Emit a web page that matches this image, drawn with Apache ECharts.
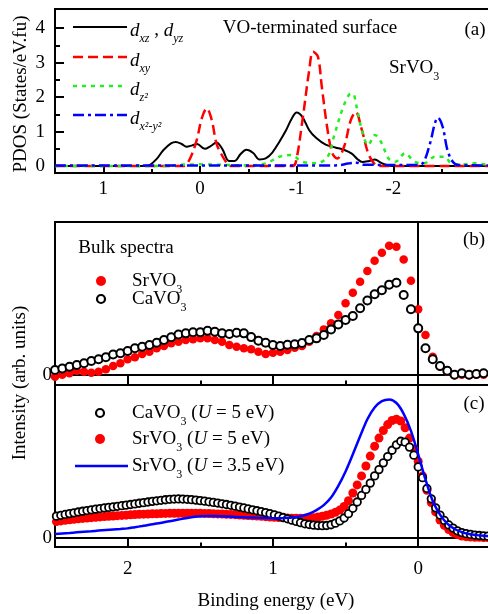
<!DOCTYPE html>
<html>
<head>
<meta charset="utf-8">
<script src="https://cdn.jsdelivr.net/npm/echarts@6/dist/echarts.min.js"></script>
<style>
  html, body { margin: 0; padding: 0; background: #fff; overflow: hidden; }
  #chart { width: 600px; height: 614px; }
</style>
</head>
<body>
<div id="chart"></div>
<script>
const serif = '"Liberation Serif", "DejaVu Serif", serif';

// (a) PDOS of the VO-terminated surface (energy axis runs right to negative)
const xzE = [1.5, 0.58, 0.52, 0.45, 0.38, 0.30, 0.25, 0.19, 0.14, 0.08, 0.03, -0.05, -0.11, -0.17, -0.23, -0.30, -0.36, -0.42, -0.48, -0.55, -0.615, -0.68, -0.75, -0.82, -0.89, -0.95, -1.0, -1.06, -1.13, -1.2, -1.3, -1.4, -1.5, -1.57, -1.63, -1.68, -1.75, -1.81, -1.87, -1.93, -1.99, -3.0];
const xzV = [0, 0, 0.03, 0.2, 0.46, 0.66, 0.70, 0.64, 0.56, 0.60, 0.64, 0.50, 0.58, 0.68, 0.50, 0.15, 0.15, 0.35, 0.47, 0.38, 0.19, 0.22, 0.40, 0.70, 1.04, 1.38, 1.55, 1.42, 1.04, 0.82, 0.62, 0.54, 0.46, 0.36, 0.2, 0.12, 0.15, 0.19, 0.1, 0.03, 0, 0];
const xyE = [1.5, 0.18, 0.14, 0.09, 0.034, -0.02, -0.07, -0.12, -0.17, -0.22, -0.27, -0.32, -0.95, -0.99, -1.06, -1.13, -1.17, -1.22, -1.26, -1.32, -1.37, -1.42, -1.49, -1.56, -1.61, -1.675, -1.74, -1.8, -1.85, -3.0];
const xyV = [0, 0, 0.05, 0.3, 0.75, 1.4, 1.67, 1.35, 0.66, 0.35, 0.12, 0, 0, 0.1, 1.33, 2.78, 3.31, 3.17, 2.3, 1.04, 0.37, 0.22, 0.56, 1.33, 1.57, 1.04, 0.37, 0.08, 0, 0];
const z2E = [1.5, 0.35, 0.2, 0.0, -0.2, -0.5, -0.68, -0.82, -0.94, -1.06, -1.2, -1.32, -1.385, -1.47, -1.54, -1.58, -1.62, -1.675, -1.74, -1.81, -1.88, -1.95, -2.02, -2.12, -2.22, -2.32, -2.43, -2.53, -2.6, -2.74, -2.84, -2.95, -3.0];
const z2V = [0, 0, 0.04, 0.05, 0.04, 0.02, 0.08, 0.27, 0.32, 0.125, 0.08, 0.27, 0.85, 1.62, 2.06, 2.1, 1.72, 1.04, 0.61, 0.9, 0.66, 0.22, 0.125, 0.37, 0.125, 0.08, 0.27, 0.27, 0.08, 0.05, 0.08, 0.05, 0.05];
const x2y2E = [1.5, -1.4, -1.55, -1.62, -1.7, -2.25, -2.31, -2.38, -2.43, -2.46, -2.51, -2.56, -2.615, -2.67, -3.0];
const x2y2V = [0.02, 0.02, 0.08, 0.1, 0.04, 0.03, 0.1, 0.66, 1.24, 1.4, 1.14, 0.46, 0.125, 0.03, 0.02];

// (b) bulk spectra
const bulkE = [2.5, 2.45, 2.4, 2.35, 2.3, 2.25, 2.2, 2.15, 2.1, 2.05, 2, 1.95, 1.9, 1.85, 1.8, 1.75, 1.7, 1.65, 1.6, 1.55, 1.5, 1.45, 1.4, 1.35, 1.3, 1.25, 1.2, 1.15, 1.1, 1.05, 1, 0.95, 0.9, 0.85, 0.8, 0.75, 0.7, 0.65, 0.6, 0.55, 0.5, 0.45, 0.4, 0.35, 0.3, 0.25, 0.2, 0.15, 0.1, 0.05, 0, -0.05, -0.1, -0.15, -0.2, -0.25, -0.3, -0.35, -0.4, -0.45];
const bulkSr = [-0.2, 0, 0.15, 0.4, 0.3, 0.2, 0.3, 0.54, 0.86, 1.13, 1.52, 1.72, 2.04, 2.27, 2.6, 2.83, 3.09, 3.25, 3.41, 3.48, 3.58, 3.58, 3.41, 3.25, 2.92, 2.76, 2.6, 2.5, 2.27, 2.04, 2.17, 2.27, 2.43, 2.66, 2.83, 3.25, 3.8, 4.46, 5.05, 5.87, 7.02, 8.06, 9.14, 10.19, 11.2, 11.98, 12.67, 12.57, 11.33, 9.24, 6.43, 3.9, 1.78, 0.8, 0.3, -0.05, 0, -0.05, 0, 0];
const bulkCa = [0.47, 0.62, 0.8, 0.96, 1.13, 1.35, 1.52, 1.72, 2.0, 2.12, 2.33, 2.6, 2.76, 2.92, 3.15, 3.41, 3.68, 3.95, 4.07, 4.17, 4.17, 4.33, 4.23, 4.07, 4.0, 4.13, 4.07, 3.7, 3.35, 3.15, 2.92, 2.83, 2.95, 2.99, 3.12, 3.41, 3.58, 3.9, 4.46, 4.95, 5.38, 5.77, 6.53, 7.3, 7.9, 8.3, 8.85, 9.04, 7.83, 6.43, 4.56, 2.6, 1.52, 0.86, 0.4, 0, 0.15, 0, 0.08, 0.15];

// (c) calculated spectra
const calcE = [2.49, 2.46, 2.43, 2.40, 2.37, 2.34, 2.31, 2.28, 2.25, 2.22,
  2.19, 2.16, 2.13, 2.10, 2.07, 2.04, 2.01, 1.98, 1.95, 1.92,
  1.89, 1.86, 1.83, 1.80, 1.77, 1.74, 1.71, 1.68, 1.65, 1.62,
  1.59, 1.56, 1.53, 1.50, 1.47, 1.44, 1.41, 1.38, 1.35, 1.32,
  1.29, 1.26, 1.23, 1.20, 1.17, 1.14, 1.11, 1.08, 1.05, 1.02,
  0.99, 0.96, 0.93, 0.90, 0.87, 0.84, 0.81, 0.78, 0.75, 0.72,
  0.69, 0.66, 0.63, 0.60, 0.57, 0.54, 0.51, 0.48, 0.45, 0.42,
  0.39, 0.36, 0.33, 0.30, 0.27, 0.24, 0.21, 0.18, 0.15, 0.12,
  0.09, 0.06, 0.03, 0, -0.03, -0.06, -0.09, -0.12, -0.15, -0.18,
  -0.21, -0.24, -0.27, -0.30, -0.33, -0.36, -0.39, -0.42, -0.45, -0.48];
const calcCaU5 = [2.43, 2.52, 2.62, 2.71, 2.8, 2.89, 2.97, 3.05, 3.13, 3.2,
  3.27, 3.34, 3.4, 3.46, 3.52, 3.59, 3.65, 3.72, 3.79, 3.86,
  3.93, 4.0, 4.07, 4.13, 4.19, 4.25, 4.3, 4.33, 4.34, 4.33,
  4.3, 4.26, 4.21, 4.15, 4.09, 4.02, 3.95, 3.88, 3.8, 3.72,
  3.63, 3.54, 3.44, 3.34, 3.23, 3.13, 3.03, 2.92, 2.82, 2.7,
  2.58, 2.44, 2.28, 2.13, 1.98, 1.84, 1.7, 1.58, 1.5, 1.43,
  1.39, 1.37, 1.39, 1.47, 1.65, 1.9, 2.22, 2.7, 3.3, 4.0,
  4.73, 5.4, 6.1, 6.9, 7.6, 8.35, 9.05, 9.75, 10.35, 10.75,
  10.65, 10.1, 9.2, 7.9, 6.7, 5.5, 4.35, 3.35, 2.55, 1.95,
  1.45, 1.1, 0.8, 0.6, 0.48, 0.4, 0.33, 0.28, 0.24, 0.2];
const calcSrU5 = [1.82, 1.9, 1.97, 2.03, 2.08, 2.13, 2.18, 2.22, 2.26, 2.3,
  2.34, 2.38, 2.42, 2.45, 2.48, 2.51, 2.54, 2.57, 2.6, 2.63,
  2.65, 2.67, 2.69, 2.7, 2.72, 2.73, 2.74, 2.75, 2.75, 2.75,
  2.75, 2.75, 2.74, 2.74, 2.73, 2.72, 2.7, 2.68, 2.66, 2.64,
  2.62, 2.59, 2.56, 2.53, 2.5, 2.47, 2.44, 2.41, 2.37, 2.33,
  2.3, 2.27, 2.24, 2.22, 2.2, 2.19, 2.19, 2.2, 2.22, 2.26,
  2.32, 2.42, 2.53, 2.67, 2.85, 3.1, 3.5, 4.15, 5.0, 5.9,
  6.9, 8.0, 9.1, 10.2, 11.1, 11.95, 12.6, 13.05, 13.2, 13.0,
  12.25, 11.1, 9.9, 8.5, 6.9, 5.3, 3.95, 2.9, 2.0, 1.4,
  0.95, 0.6, 0.38, 0.22, 0.15, 0.11, 0.08, 0.07, 0.06, 0.05];
const lineE = [2.5, 2.45, 2.4, 2.35, 2.3, 2.25, 2.2, 2.15, 2.1, 2.05, 2, 1.95, 1.9, 1.85, 1.8, 1.75, 1.7, 1.65, 1.6, 1.55, 1.5, 1.45, 1.4, 1.35, 1.3, 1.25, 1.2, 1.15, 1.1, 1.05, 1, 0.95, 0.9, 0.85, 0.8, 0.75, 0.7, 0.65, 0.6, 0.55, 0.5, 0.45, 0.4, 0.35, 0.3, 0.25, 0.2, 0.15, 0.1, 0.05, 0, -0.05, -0.1, -0.15, -0.2, -0.25, -0.3, -0.35, -0.4, -0.45, -0.5];
const calcSrU35 = [0.44, 0.5, 0.56, 0.63, 0.7, 0.76, 0.82, 0.88, 0.94, 1.0,
  1.07, 1.2, 1.33, 1.47, 1.6, 1.75, 1.9, 2.05, 2.2, 2.33,
  2.42, 2.44, 2.44, 2.42, 2.38, 2.34, 2.3, 2.27, 2.24, 2.22,
  2.2, 2.2, 2.25, 2.3, 2.45, 2.7, 3.1, 3.65, 4.5, 5.8,
  7.4, 9.3, 11.3, 13.2, 14.5, 15.2, 15.4, 15.0, 13.8, 11.9,
  9.3, 6.5, 4.1, 2.6, 1.6, 1.0, 0.65, 0.44, 0.32, 0.25, 0.2];

// tick positions
const pdosTicks = [-2, -1, 0, 1];
const pdosMinor = [-2.5, -1.5, -0.5, 0.5];
const pdosYTicks = [0, 1, 2, 3, 4];
const pdosYMinor = [0.5, 1.5, 2.5, 3.5];
const beTicks = [0, 1, 2];
const beMinor = [0.5, 1.5];

const pairs = (xs, ys) => xs.map((x, i) => [x, ys[i]]);

const rich = {
  m: { fontFamily: serif, fontSize: 19, lineHeight: 22, verticalAlign: 'top', color: '#000' },
  i: { fontFamily: serif, fontSize: 19, fontStyle: 'italic', lineHeight: 22, verticalAlign: 'top', color: '#000' },
  s: { fontFamily: serif, fontSize: 12, lineHeight: 12, padding: [12, 0, 0, 0], verticalAlign: 'top', color: '#000' },
  si: { fontFamily: serif, fontSize: 12, fontStyle: 'italic', lineHeight: 12, padding: [12, 0, 0, 0], verticalAlign: 'top', color: '#000' }
};
function txt(x, y, text, align) {
  return { type: 'text', x: x, y: y, z: 100,
    style: { text: text, rich: rich, align: align || 'left', verticalAlign: 'middle', fill: '#000', font: '19px ' + serif } };
}
function plain(x, y, text, rot) {
  return { type: 'text', x: x, y: y, rotation: rot || 0, z: 100,
    style: { text: text, align: 'center', verticalAlign: 'middle', fill: '#000', font: '19px ' + serif } };
}

const tickStyle = { color: '#000', width: 2 };
function xMajor(grid, min, max, ticks, len, labels, margin) {
  return { type: 'value', gridIndex: grid, min: min, max: max, inverse: true, position: 'bottom',
    axisLine: { show: false, onZero: false }, splitLine: { show: false },
    axisTick: { show: true, inside: true, length: len, customValues: ticks, lineStyle: tickStyle },
    axisLabel: labels ? { customValues: ticks, margin: margin, color: '#000', fontFamily: serif, fontSize: 19 } : { show: false } };
}
function xMinor(grid, min, max, ticks, len) {
  return { type: 'value', gridIndex: grid, min: min, max: max, inverse: true, position: 'bottom',
    axisLine: { show: false, onZero: false }, splitLine: { show: false }, axisLabel: { show: false },
    axisTick: { show: true, inside: true, length: len, customValues: ticks, lineStyle: tickStyle } };
}
function yAxisOf(grid, min, max, ticks, len, labels, margin) {
  return { type: 'value', gridIndex: grid, min: min, max: max, position: 'left',
    axisLine: { show: false, onZero: false }, splitLine: { show: false },
    axisTick: ticks ? { show: true, inside: true, length: len, customValues: ticks, lineStyle: tickStyle } : { show: false },
    axisLabel: labels ? { customValues: labels, margin: margin, color: '#000', fontFamily: serif, fontSize: 19 } : { show: false } };
}

const refLines = (xi, yi) => ({
  type: 'line', xAxisIndex: xi, yAxisIndex: yi, data: [], silent: true,
  markLine: { z: 1, silent: true, symbol: ['none', 'none'], label: { show: false },
    lineStyle: { color: '#000', width: 2, type: 'solid' }, emphasis: { disabled: true },
    data: [{ yAxis: 0 }, { xAxis: 0 }] }
});

const pdosLine = (xs, ys, color, width, dash) => ({
  type: 'line', xAxisIndex: 0, yAxisIndex: 0, data: pairs(xs, ys), showSymbol: false, smooth: 0.35,
  lineStyle: { color: color, width: width, type: dash }
});

const chart = echarts.init(document.getElementById('chart'));
chart.setOption({
  animation: false,
  backgroundColor: '#fff',
  grid: [
    { left: 55, top: 9, width: 435, height: 164, show: true, borderColor: '#000', borderWidth: 2, backgroundColor: 'transparent' },
    { left: 55, top: 222, width: 508.5, height: 163, show: true, borderColor: '#000', borderWidth: 2, backgroundColor: 'transparent' },
    { left: 55, top: 385, width: 508.5, height: 162, show: true, borderColor: '#000', borderWidth: 2, backgroundColor: 'transparent' }
  ],
  xAxis: [
    xMajor(0, -3, 1.5, pdosTicks, 7, true, 7),
    xMinor(0, -3, 1.5, pdosMinor, 4),
    xMajor(1, -1, 2.5, beTicks, 9.5, false),
    xMinor(1, -1, 2.5, beMinor, 4.5),
    xMajor(2, -1, 2.5, beTicks, 9.5, true, 13),
    xMinor(2, -1, 2.5, beMinor, 4.5)
  ],
  yAxis: [
    yAxisOf(0, -0.2, 4.55, pdosYTicks, 9, pdosYTicks, 10),
    yAxisOf(0, -0.2, 4.55, pdosYMinor, 5, null),
    yAxisOf(1, -1, 15, null, 0, [0], 3),
    yAxisOf(2, -1, 17, null, 0, [0], 3)
  ],
  series: [
    pdosLine(xzE, xzV, '#000', 2, 'solid'),
    pdosLine(xyE, xyV, '#ff0000', 2.5, [10, 5]),
    pdosLine(z2E, z2V, '#22ee22', 2.5, [4, 5]),
    pdosLine(x2y2E, x2y2V, '#0000ff', 2.5, [11, 4, 3, 4]),

    refLines(2, 2),
    { type: 'scatter', xAxisIndex: 2, yAxisIndex: 2, data: pairs(bulkE, bulkSr), symbol: 'circle', symbolSize: 8.5,
      itemStyle: { color: '#ff0000', opacity: 1 } },
    { type: 'scatter', xAxisIndex: 2, yAxisIndex: 2, data: pairs(bulkE, bulkCa), symbol: 'circle', symbolSize: 8,
      itemStyle: { color: '#fff', borderColor: '#000', borderWidth: 2, opacity: 1 } },

    refLines(4, 3),
    { type: 'scatter', xAxisIndex: 4, yAxisIndex: 3, data: pairs(calcE, calcSrU5), symbol: 'circle', symbolSize: 9,
      itemStyle: { color: '#ff0000', opacity: 1 } },
    { type: 'scatter', xAxisIndex: 4, yAxisIndex: 3, data: pairs(calcE, calcCaU5), symbol: 'circle', symbolSize: 7.5,
      itemStyle: { color: '#fff', borderColor: '#000', borderWidth: 1.8, opacity: 1 } },
    { type: 'line', xAxisIndex: 4, yAxisIndex: 3, data: pairs(lineE, calcSrU35), showSymbol: false, smooth: 0.3,
      lineStyle: { color: '#0000ff', width: 2.5 }, z: 3 }
  ],
  graphic: [
    // panel (a) legend
    { type: 'line', shape: { x1: 73, y1: 27, x2: 127, y2: 27 }, style: { stroke: '#000', lineWidth: 2 } },
    { type: 'line', shape: { x1: 73, y1: 57, x2: 127, y2: 57 }, style: { stroke: '#ff0000', lineWidth: 2.5, lineDash: [10, 5] } },
    { type: 'line', shape: { x1: 73, y1: 86, x2: 127, y2: 86 }, style: { stroke: '#22ee22', lineWidth: 2.5, lineDash: [4, 5] } },
    { type: 'line', shape: { x1: 73, y1: 115, x2: 127, y2: 115 }, style: { stroke: '#0000ff', lineWidth: 2.5, lineDash: [11, 4, 3, 4] } },
    txt(130, 32, '{i|d}{si|xz}{m| , }{i|d}{si|yz}'),
    txt(130, 62, '{i|d}{si|xy}'),
    txt(130, 91, '{i|d}{si|z²}'),
    txt(130, 120, '{i|d}{si|x²-y²}'),
    plain(310, 28, 'VO-terminated surface'),
    plain(475, 30, '(a)'),
    txt(389, 70, '{m|SrVO}{s|3}'),

    // panel (b)
    plain(126, 248, 'Bulk spectra'),
    plain(474, 240, '(b)'),
    { type: 'circle', shape: { cx: 101, cy: 281, r: 5 }, style: { fill: '#ff0000' } },
    { type: 'circle', shape: { cx: 101, cy: 299, r: 4 }, style: { fill: '#fff', stroke: '#000', lineWidth: 2.2 } },
    txt(132, 282.5, '{m|SrVO}{s|3}'),
    txt(132, 300.5, '{m|CaVO}{s|3}'),

    // panel (c)
    plain(474, 404, '(c)'),
    { type: 'circle', shape: { cx: 100, cy: 413, r: 4 }, style: { fill: '#fff', stroke: '#000', lineWidth: 2.2 } },
    { type: 'circle', shape: { cx: 100, cy: 439, r: 5 }, style: { fill: '#ff0000' } },
    { type: 'line', shape: { x1: 75, y1: 466, x2: 128, y2: 466 }, style: { stroke: '#0000ff', lineWidth: 2.5 } },
    txt(132, 414.5, '{m|CaVO}{s|3}{m| (}{i|U}{m| = 5 eV)}'),
    txt(132, 440.5, '{m|SrVO}{s|3}{m| (}{i|U}{m| = 5 eV)}'),
    txt(132, 467.5, '{m|SrVO}{s|3}{m| (}{i|U}{m| = 3.5 eV)}'),

    // axis titles
    plain(21, 94, 'PDOS (States/eV.fu)', Math.PI / 2),
    plain(20, 383, 'Intensity (arb. units)', Math.PI / 2),
    plain(276, 601, 'Binding energy (eV)')
  ]
});
</script>
</body>
</html>
